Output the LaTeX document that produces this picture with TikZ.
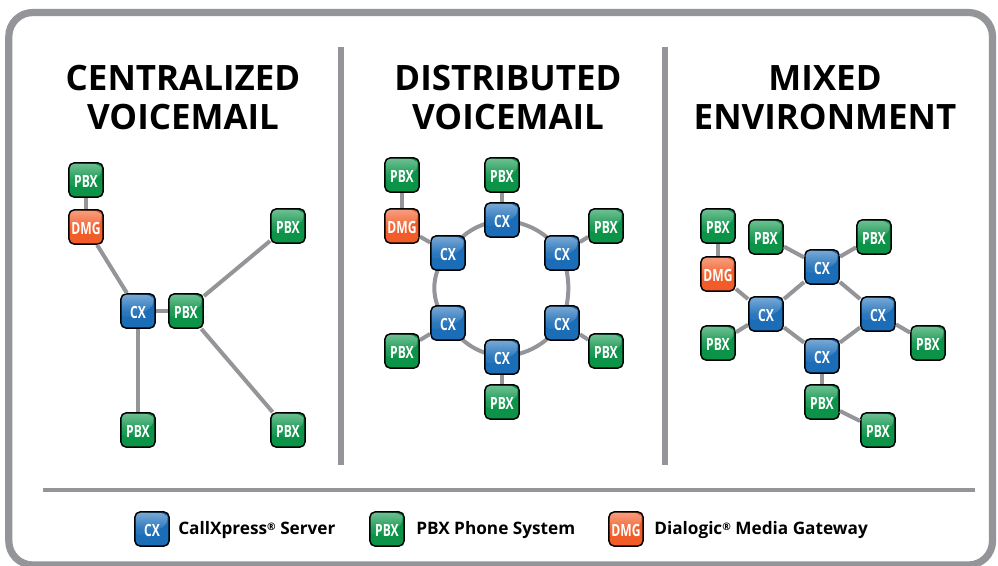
\documentclass[tikz,border=0pt]{standalone}
\usepackage{fontspec}
\setmainfont{Open Sans}
\usetikzlibrary{calc,backgrounds}
\definecolor{barg}{HTML}{939598}
\definecolor{cxc}{HTML}{1B6DB8}
\definecolor{pbc}{HTML}{0B9448}
\definecolor{dmc}{HTML}{F25C28}
\tikzset{
  x=0.75pt,y=-0.75pt,
  box/.style={rectangle,rounded corners=4.2pt,draw=black,line width=1.1pt,minimum width=25.8pt,minimum height=25.8pt,inner sep=0pt,
    text=white,font=\fontsize{12.6}{13}\selectfont\bfseries,text height=11.1pt,text depth=0pt,
    path picture={
      \shade[top color=#1!58!white,bottom color=#1,middle color=#1!92!white] ($(path picture bounding box.south west)+(0,8pt)$)
        .. controls ($(path picture bounding box.center)+(-6pt,-4pt)$) and ($(path picture bounding box.center)+(6pt,-2pt)$) .. ($(path picture bounding box.north east)+(0,-6pt)$)
        -- ($(path picture bounding box.north east)+(-3pt,-1pt)$)
        -- (path picture bounding box.north west) -- cycle;
    }},
  cx/.style={box=cxc,fill=cxc},
  pbx/.style={box=pbc,fill=pbc},
  dmg/.style={box=dmc,fill=dmc},
  link/.style={draw=barg,line width=3pt},
  bar/.style={draw=barg,line width=4.5pt},
  ttl/.style={font=\fontsize{26.2}{29}\selectfont\bfseries,align=center,text=black,inner sep=0pt},
  key/.style={font=\fontsize{12.9}{14}\selectfont\bfseries,anchor=west,text=black,inner sep=0pt},
}
\newcommand{\lbl}[1]{\scalebox{.72}[1]{#1}}
\newcommand{\regmark}{\raisebox{.45ex}{\scalebox{.6}{\textregistered}}}
\begin{document}
\begin{tikzpicture}
\useasboundingbox (0,0) rectangle (998,565);
\coordinate (fa) at (8.8,12.5);
\coordinate (fb) at (992.5,565);
\draw[draw=barg,line width=5.4pt,rounded corners=18pt] (fa) rectangle (fb);

\coordinate (b1a) at (341,47); \coordinate (b1b) at (341,465);
\coordinate (b2a) at (665,47); \coordinate (b2b) at (665,465);
\coordinate (b3a) at (43,490); \coordinate (b3b) at (975,490);
\draw[bar] (b1a)--(b1b);
\draw[bar] (b2a)--(b2b);
\draw[draw=barg,line width=3pt] (b3a)--(b3b);

\node[ttl] (t1) at (183,97.5) {CENTRALIZED\\VOICEMAIL};
\node[ttl] (t2) at (508,97.5) {DISTRIBUTED\\VOICEMAIL};
\node[ttl] (t3) at (825,97.5) {MIXED\\ENVIRONMENT};

% left panel
\node[pbx] (a1) at (86,180) {\lbl{PBX}};
\node[dmg] (a2) at (86,227) {\lbl{DMG}};
\node[cx]  (a3) at (138,311) {\lbl{CX}};
\node[pbx] (a4) at (186,311) {\lbl{PBX}};
\node[pbx] (a5) at (288,226) {\lbl{PBX}};
\node[pbx] (a6) at (138,430) {\lbl{PBX}};
\node[pbx] (a7) at (288,430) {\lbl{PBX}};

% middle panel
\node[pbx] (m1) at (402,175) {\lbl{PBX}};
\node[pbx] (m2) at (502,175) {\lbl{PBX}};
\node[dmg] (m3) at (402,226) {\lbl{DMG}};
\node[cx]  (m4) at (502,220) {\lbl{CX}};
\node[cx]  (m5) at (448,253) {\lbl{CX}};
\node[cx]  (m6) at (562,253) {\lbl{CX}};
\node[pbx] (m7) at (606,226) {\lbl{PBX}};
\node[cx]  (m8) at (448,323) {\lbl{CX}};
\node[cx]  (m9) at (562,323) {\lbl{CX}};
\node[pbx] (m10) at (402,351) {\lbl{PBX}};
\node[pbx] (m11) at (606,351) {\lbl{PBX}};
\node[cx]  (m12) at (502,357) {\lbl{CX}};
\node[pbx] (m13) at (502,402) {\lbl{PBX}};

% right panel
\node[pbx] (r1) at (718,226) {\lbl{PBX}};
\node[pbx] (r2) at (766,237) {\lbl{PBX}};
\node[pbx] (r3) at (874,237) {\lbl{PBX}};
\node[cx]  (r4) at (822,267) {\lbl{CX}};
\node[dmg] (r5) at (718,274) {\lbl{DMG}};
\node[cx]  (r6) at (766,314) {\lbl{CX}};
\node[cx]  (r7) at (878,314) {\lbl{CX}};
\node[pbx] (r8) at (718,343) {\lbl{PBX}};
\node[pbx] (r9) at (928,343) {\lbl{PBX}};
\node[cx]  (r10) at (822,356) {\lbl{CX}};
\node[pbx] (r11) at (822,402) {\lbl{PBX}};
\node[pbx] (r12) at (878,430) {\lbl{PBX}};

% legend
\node[cx]  (k1) at (152,529) {\lbl{CX}};
\node[pbx] (k2) at (387,529) {\lbl{PBX}};
\node[dmg] (k3) at (626,529) {\lbl{DMG}};
\node[key] (kt1) at (178,530.5) {CallXpress\regmark{} Server};
\node[key] (kt2) at (416,530.5) {PBX Phone System};
\node[key] (kt3) at (654,530.5) {Dialogic\regmark{} Media Gateway};

\begin{scope}[link]
\draw (a1)--(a2); \draw (a2)--(a3); \draw (a3)--(a4); \draw (a4)--(a5); \draw (a3)--(a6); \draw (a4)--(a7);
\draw (m1)--(m3); \draw (m3)--(m5); \draw (m2)--(m4); \draw (m6)--(m7); \draw (m8)--(m10); \draw (m9)--(m11); \draw (m12)--(m13);
\draw (r1)--(r5); \draw (r5)--(r6); \draw (r2)--(r4); \draw (r3)--(r4); \draw (r4)--(r6); \draw (r4)--(r7);
\draw (r6)--(r10); \draw (r7)--(r10); \draw (r6)--(r8); \draw (r7)--(r9); \draw (r10)--(r11); \draw (r11)--(r12);
\end{scope}
\begin{pgfonlayer}{background}
\draw[link] (m4.center) to[bend left=23] (m6.center);
\draw[link] (m6.center) to[bend left=18] (m9.center);
\draw[link] (m9.center) to[bend left=23] (m12.center);
\draw[link] (m12.center) to[bend left=23] (m8.center);
\draw[link] (m8.center) to[bend left=42] (m5.center);
\draw[link] (m5.center) to[bend left=23] (m4.center);
\end{pgfonlayer}
\end{tikzpicture}
\end{document}
